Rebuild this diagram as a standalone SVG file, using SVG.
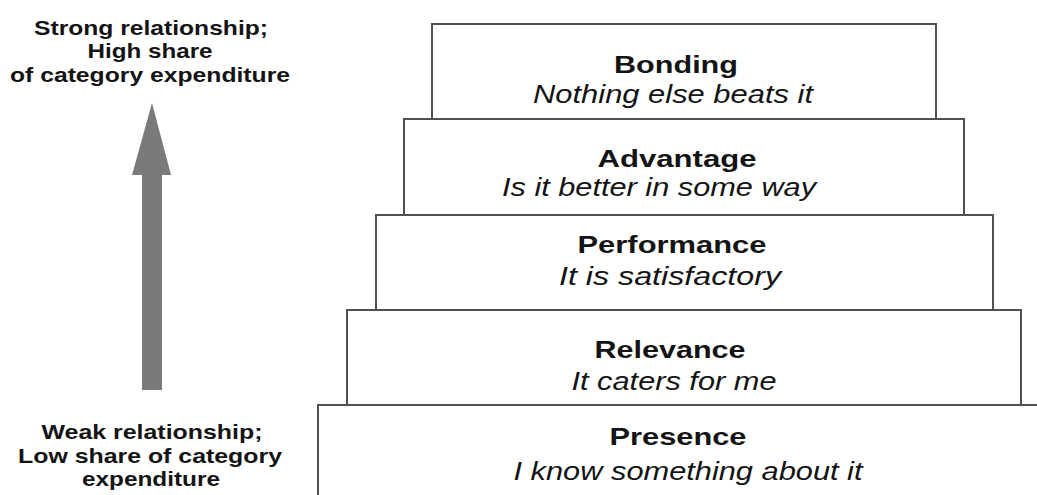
<svg xmlns="http://www.w3.org/2000/svg" width="1037" height="495" viewBox="0 0 1037 495">
  <style>
    .step { fill: #ffffff; stroke: #505050; stroke-width: 2; }
    .title { font-family: "Liberation Sans", Arial, sans-serif; font-weight: bold; font-size: 24px; fill: #141414; text-anchor: middle; }
    .sub { font-family: "Liberation Sans", Arial, sans-serif; font-style: italic; font-size: 25px; fill: #141414; text-anchor: middle; }
    .side { font-family: "Liberation Sans", Arial, sans-serif; font-weight: bold; font-size: 21px; fill: #141414; text-anchor: middle; }
  </style>
  <rect width="1037" height="495" fill="#ffffff"/>

  <!-- upward arrow -->
  <g id="connectors">
    <polygon points="152,103 171,175 162,175 162,390 142,390 142,175 132,175" fill="#7a7a7a"/>
  </g>

  <!-- side captions -->
  <g id="top-caption">
    <text class="side" x="151" y="35" textLength="234" lengthAdjust="spacingAndGlyphs">Strong relationship;</text>
    <text class="side" x="150" y="58" textLength="125" lengthAdjust="spacingAndGlyphs">High share</text>
    <text class="side" x="150" y="82" textLength="280" lengthAdjust="spacingAndGlyphs">of category expenditure</text>
  </g>
  <g id="bottom-caption">
    <text class="side" x="152" y="439" textLength="221" lengthAdjust="spacingAndGlyphs">Weak relationship;</text>
    <text class="side" x="150" y="463" textLength="264" lengthAdjust="spacingAndGlyphs">Low share of category</text>
    <text class="side" x="151" y="486" textLength="138" lengthAdjust="spacingAndGlyphs">expenditure</text>
  </g>

  <!-- pyramid steps, bottom to top -->
  <g id="presence">
    <rect class="step" x="318" y="405" width="740" height="100"/>
    <text class="title" x="678" y="445" textLength="137" lengthAdjust="spacingAndGlyphs">Presence</text>
    <text class="sub" x="688" y="480" textLength="349" lengthAdjust="spacingAndGlyphs">I know something about it</text>
  </g>
  <g id="relevance">
    <rect class="step" x="347" y="310" width="674" height="95"/>
    <text class="title" x="670" y="358" textLength="151" lengthAdjust="spacingAndGlyphs">Relevance</text>
    <text class="sub" x="674" y="390" textLength="205" lengthAdjust="spacingAndGlyphs">It caters for me</text>
  </g>
  <g id="performance">
    <rect class="step" x="376" y="215" width="617" height="95"/>
    <text class="title" x="672" y="253" textLength="189" lengthAdjust="spacingAndGlyphs">Performance</text>
    <text class="sub" x="670" y="285" textLength="222" lengthAdjust="spacingAndGlyphs">It is satisfactory</text>
  </g>
  <g id="advantage">
    <rect class="step" x="404" y="119" width="560" height="96"/>
    <text class="title" x="677" y="167" textLength="159" lengthAdjust="spacingAndGlyphs">Advantage</text>
    <text class="sub" x="659" y="196" textLength="314" lengthAdjust="spacingAndGlyphs">Is it better in some way</text>
  </g>
  <g id="bonding">
    <rect class="step" x="432" y="24" width="504" height="95"/>
    <text class="title" x="676" y="73" textLength="124" lengthAdjust="spacingAndGlyphs">Bonding</text>
    <text class="sub" x="673" y="103" textLength="280" lengthAdjust="spacingAndGlyphs">Nothing else beats it</text>
  </g>
</svg>
